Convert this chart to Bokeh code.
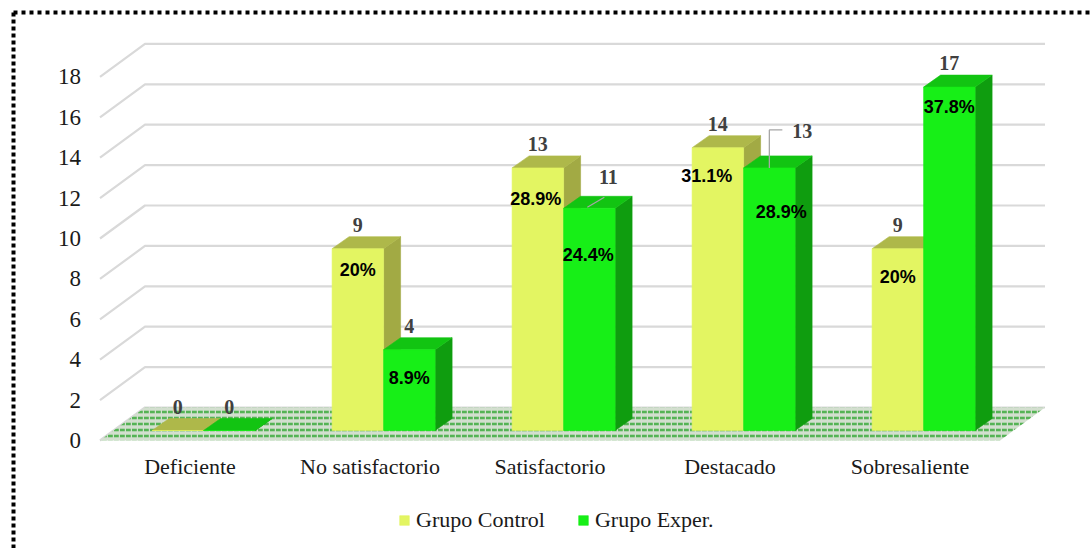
from bokeh.plotting import figure
from bokeh.models import (Range1d, LinearAxis, FixedTicker, Legend, LegendItem,
                          ColumnDataSource)
from bokeh.embed import file_html
from bokeh.resources import INLINE

# ---------------- data ----------------
categories = ["Deficiente", "No satisfactorio", "Satisfactorio", "Destacado", "Sobresaliente"]
control = [0, 9, 13, 14, 9]
exper = [0, 4, 11, 13, 17]
control_pct = ["", "20%", "28.9%", "31.1%", "20%"]
exper_pct = ["", "8.9%", "24.4%", "28.9%", "37.8%"]
y_ticks = [0, 2, 4, 6, 8, 10, 12, 14, 16, 18]
series_names = ["Grupo Control", "Grupo Exper."]

# ---------------- layout (pixels) ----------------
W, H = 1091, 548
PX_CAT = 180.0      # pixels per category
PX_VAL = 20.2       # pixels per value unit
X0_PX = 189.5       # pixel x of first category (front plane)
Y0_PX = 440.0       # pixel y of value 0 (front plane)

def dx(px):
    return px / PX_CAT

def dy(px):
    return px / PX_VAL

FLOOR_DX, FLOOR_DY = dx(45), dy(33)     # full depth of the floor
BAR_DX0, BAR_DY0 = dx(13.6), dy(10)     # front face of bars
BAR_DDX, BAR_DDY = dx(17), dy(12)       # bar depth
BAR_W = dx(51.5)

# label offsets (screen px)
ctrl_pct_off = [(0, 0), (0, 21), (-2, 31), (-11, 28), (0, 28)]
exp_pct_off = [(0, 0), (0, 28), (-1, 47), (12, 44), (0, 20)]
ctrl_num_off = [(0, 0), (0, 0), (0, 0), (0, 0), (0, 0)]
exp_num_off = [(0, 0), (0, 0), (19, -7), (33, -13), (0, 0)]

YEL_FRONT, YEL_TOP, YEL_SIDE = "#E3F562", "#AEB84A", "#A2AA44"
GRN_FRONT, GRN_TOP, GRN_SIDE = "#17EF17", "#12C412", "#0F9D0F"

p = figure(width=W, height=H, output_backend="svg", toolbar_location=None,
           x_range=Range1d(-X0_PX / PX_CAT, (W - X0_PX) / PX_CAT),
           y_range=Range1d(-(H - Y0_PX) / PX_VAL, Y0_PX / PX_VAL),
           x_axis_location=None, y_axis_location=None, min_border=0,
           outline_line_color=None, background_fill_color="white",
           border_fill_color="white")
p.grid.visible = False

xl, xr = -0.5, len(categories) - 0.5

# ---- grid lines (left side wall + back wall) ----
gx, gy = [], []
for t in y_ticks:
    gx.append([xl, xl + FLOOR_DX, xr + FLOOR_DX])
    gy.append([t, t + FLOOR_DY, t + FLOOR_DY])
p.multi_line(gx, gy, line_color="#d9d9d9", line_width=2.2)

# ---- floor ----
p.patch([xl, xr, xr + FLOOR_DX, xl + FLOOR_DX], [0, 0, FLOOR_DY, FLOOR_DY],
        fill_color="#d3dfcf", line_color=None,
        hatch_pattern="horizontal_dash", hatch_color="#55b355",
        hatch_scale=6, hatch_weight=2.6)

# ---- bars ----
def faces(values, shift):
    front_x, front_y, side_x, side_y, top_x, top_y = [], [], [], [], [], []
    for i, v in enumerate(values):
        x0 = i + BAR_DX0 + shift
        x1 = x0 + BAR_W
        yb = BAR_DY0
        yt = v + BAR_DY0
        front_x.append([x0, x1, x1, x0]); front_y.append([yb, yb, yt, yt])
        side_x.append([x1, x1 + BAR_DDX, x1 + BAR_DDX, x1])
        side_y.append([yb, yb + BAR_DDY, yt + BAR_DDY, yt])
        top_x.append([x0, x1, x1 + BAR_DDX, x0 + BAR_DDX])
        top_y.append([yt, yt, yt + BAR_DDY, yt + BAR_DDY])
    return front_x, front_y, side_x, side_y, top_x, top_y

renderers = []
for values, shift, cols in [(control, -BAR_W, (YEL_FRONT, YEL_TOP, YEL_SIDE)),
                            (exper, 0.0, (GRN_FRONT, GRN_TOP, GRN_SIDE))]:
    fx, fy, sx, sy, tx, ty = faces(values, shift)
    p.patches(sx, sy, fill_color=cols[2], line_color=cols[2], line_width=0.6)
    p.patches(tx, ty, fill_color=cols[1], line_color=cols[1], line_width=0.6)
    r = p.patches(fx, fy, fill_color=cols[0], line_color=cols[0], line_width=0.6)
    renderers.append(r)

# ---- leader lines for moved labels ----
def top_front(i, v, shift):
    return i + BAR_DX0 + shift + BAR_W / 2, v + BAR_DY0

lx, ly = [], []
cx, cy = top_front(2, exper[2], 0.0)
lx.append([cx + dx(-2), cx + dx(15)]); ly.append([cy - dy(-1), cy - dy(-11)])
cx, cy = top_front(3, exper[3], 0.0)
lx.append([cx, cx, cx + dx(13)]); ly.append([cy, cy + dy(38), cy + dy(38)])
p.multi_line(lx, ly, line_color="#a6a6a6", line_width=1.3)

# ---- labels ----
for values, pcts, shift, noff, poff in [(control, control_pct, -BAR_W, ctrl_num_off, ctrl_pct_off),
                                        (exper, exper_pct, 0.0, exp_num_off, exp_pct_off)]:
    xs = [top_front(i, v, shift)[0] for i, v in enumerate(values)]
    ys = [top_front(i, v, shift)[1] for i, v in enumerate(values)]
    src = ColumnDataSource(dict(x=xs, y=ys, t=[str(v) for v in values],
                                xo=[o[0] for o in noff], yo=[o[1] - 24 for o in noff]))
    p.text("x", "y", text="t", source=src, x_offset="xo", y_offset="yo",
           text_align="center", text_baseline="alphabetic",
           text_font={"value": "Liberation Serif"}, text_font_style="bold",
           text_font_size="20px", text_color="#404040")
    keep = [k for k, s in enumerate(pcts) if s]
    src2 = ColumnDataSource(dict(x=[xs[k] for k in keep], y=[ys[k] for k in keep],
                                 t=[pcts[k] for k in keep],
                                 xo=[poff[k][0] for k in keep], yo=[poff[k][1] for k in keep]))
    p.text("x", "y", text="t", source=src2, x_offset="xo", y_offset="yo",
           text_align="center", text_baseline="middle",
           text_font={"value": "Liberation Sans"}, text_font_style="bold",
           text_font_size="18px", text_color="black")

# ---- axes ----
yaxis = LinearAxis(fixed_location=xl, ticker=FixedTicker(ticks=y_ticks),
                   axis_line_color=None, major_tick_line_color=None,
                   minor_tick_line_color=None, major_label_standoff=13)
yaxis.major_label_text_font = "Liberation Serif"
yaxis.major_label_text_font_size = "23px"
yaxis.major_label_text_color = "#1a1a1a"
p.add_layout(yaxis, "left")

xaxis = LinearAxis(fixed_location=0, ticker=FixedTicker(ticks=list(range(len(categories)))),
                   major_label_overrides={i: c for i, c in enumerate(categories)},
                   axis_line_color=None, major_tick_line_color=None,
                   minor_tick_line_color=None, major_label_standoff=7)
xaxis.major_label_text_font = "Liberation Serif"
xaxis.major_label_text_font_size = "22px"
xaxis.major_label_text_color = "#1a1a1a"
p.add_layout(xaxis, "below")

# ---- dotted frame ----
x_start, x_end = p.x_range.start, p.x_range.end
y_start, y_end = p.y_range.start, p.y_range.end
bx = x_start + dx(13)
by = y_end - dy(12)
p.line([bx, x_end], [by, by], line_color="black", line_width=4, line_dash="4 4")
p.line([bx, bx], [by, y_start], line_color="black", line_width=4, line_dash="4 3")

# ---- legend ----
legend = Legend(items=[LegendItem(label=series_names[0], renderers=[renderers[0]]),
                       LegendItem(label=series_names[1], renderers=[renderers[1]])],
                orientation="horizontal", location=(398, 15),
                glyph_width=12, glyph_height=12, label_standoff=6, spacing=32,
                padding=0, margin=0, border_line_color=None,
                background_fill_alpha=0,
                label_text_font="Liberation Serif", label_text_font_size="22px",
                label_text_color="#1a1a1a")
p.add_layout(legend, "center")

open("out.html", "w").write(file_html(p, INLINE))
